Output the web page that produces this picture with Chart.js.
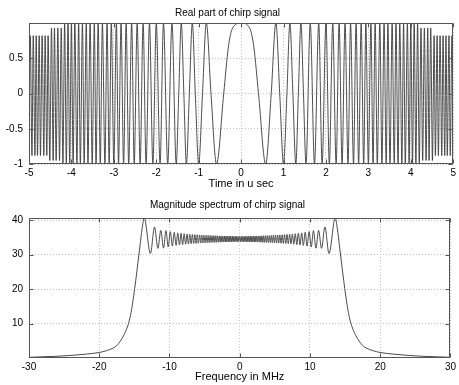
<!DOCTYPE html>
<html>
<head>
<meta charset="utf-8">
<script src="https://cdn.jsdelivr.net/npm/chart.js@4.4.0/dist/chart.umd.min.js"></script>
<style>
  html, body { margin: 0; padding: 0; background: #fff; }
  #top { position: absolute; left: 0; top: 0; width: 459px; height: 195px; }
  #bottom { position: absolute; left: 0; top: 195px; width: 459px; height: 190px; }
</style>
</head>
<body>
<div id="top"><canvas id="chirpChart"></canvas></div>
<div id="bottom"><canvas id="specChart"></canvas></div>
<script>
// real part of the chirp, read for t >= 0 (the curve is even in t):
// a few shoulder points and zero crossings near the centre, then peaks / troughs
const chirpTime = [
  0, 0.2, 0.3, 0.41, 0.58, 0.71, 0.82, 0.91, 1.0, 1.08, 1.15, 1.22, 1.29, 1.35, 1.41, 1.47, 1.53,
  1.63, 1.73, 1.83, 1.91, 2.0, 2.08, 2.16, 2.24, 2.31, 2.38, 2.45, 2.52, 2.58, 2.65,
  2.71, 2.77, 2.83, 2.89, 2.94, 3.0, 3.06, 3.11, 3.16, 3.21, 3.27, 3.32, 3.37, 3.42,
  3.46, 3.51, 3.56, 3.61, 3.65, 3.70, 3.74, 3.79, 3.83, 3.87, 3.92, 3.96, 4.0, 4.04,
  4.08, 4.12, 4.16, 4.20, 4.24, 4.28, 4.32, 4.36, 4.40, 4.43, 4.47, 4.51, 4.55, 4.58,
  4.62, 4.65, 4.69, 4.73, 4.76, 4.80, 4.83, 4.86, 4.90, 4.93, 4.97, 5.0
];
const chirpValue = [
  1, 0.93, 0.66, 0, -1, 0, 1, 0, -1, 0, 1, 0, -1, 0, 1, 0, -1,
  1, -1, 1, -1, 1, -1, 1, -1, 1, -1, 1, -1, 1, -1,
  1, -1, 1, -1, 1, -1, 1, -1, 1, -1, 1, -1, 1, -1,
  1, -1, 1, -1, 1, -1, 1, -1, 1, -1, 1, -1, 1, -1,
  1, -1, 1, -1, 0.93, -0.95, 0.93, -0.95, 0.93, -0.95, 0.93, -0.95, 0.82, -0.88,
  0.82, -0.88, 0.82, -0.88, 0.82, -0.88, 0.82, -0.88, 0.82, -0.88, 0.82, -0.88
];
const chirpXTicks = [-5, -4, -3, -2, -1, 0, 1, 2, 3, 4, 5];
const chirpYTicks = [-1, -0.5, 0, 0.5];

// magnitude spectrum, read for f <= 0 (symmetric about 0)
const specFreq = [
  -30, -28, -26, -24, -22, -20, -19, -18, -17.5, -17, -16.5, -16, -15.7, -15.4, -15.1,
  -14.8, -14.5, -14.2, -13.9, -13.6,
  -12.71, -12.13, -11.65, -11.23, -10.85, -10.5, -10.18, -9.88, -9.59, -9.32, -9.06,
  -8.82, -8.58, -8.35, -8.13, -7.91, -7.70, -7.5, -7.30, -7.11, -6.92, -6.74, -6.56,
  -6.38, -6.21, -6.04, -5.88, -5.71, -5.55, -5.40, -5.24, -5.09, -4.94, -4.79, -4.64,
  -4.5, -4.36, -4.22, -4.08, -3.94, -3.81, -3.68, -3.54, -3.41, -3.29, -3.16, -3.03,
  -2.91, -2.78, -2.66, -2.54, -2.42, -2.30, -2.18, -2.07, -1.95, -1.84, -1.72, -1.61,
  -1.5, -1.39, -1.28, -1.17, -1.06, -0.96, -0.85, -0.74, -0.64, -0.54, -0.43, -0.33,
  -0.23, -0.13, -0.03
];
const specMag = [
  0.2, 0.35, 0.5, 0.75, 1.1, 1.6, 2.1, 2.9, 3.6, 4.9, 6.6, 9.0, 11, 14, 18,
  22.5, 27.5, 32.5, 37.5, 40.6,
  30.3, 38.0, 31.8, 37.0, 31.85, 36.94, 32.22, 36.65, 32.47, 36.44, 32.65,
  36.28, 32.79, 36.15, 32.9, 36.05, 32.99, 35.97, 33.07, 35.89, 33.14, 35.83, 33.2,
  35.78, 33.25, 35.73, 33.29, 35.68, 33.34, 35.65, 33.37, 35.61, 33.41, 35.58, 33.44,
  35.55, 33.47, 35.52, 33.49, 35.49, 33.52, 35.47, 33.54, 35.45, 33.56, 35.43, 33.58,
  35.41, 33.6, 35.39, 33.62, 35.37, 33.63, 35.36, 33.65, 35.34, 33.66, 35.33, 33.68,
  35.31, 33.69, 35.3, 33.7, 35.29, 33.72, 35.28, 33.73, 35.27, 33.74, 35.26, 33.75,
  35.24, 33.76, 35.23
];
const specXTicks = [-30, -20, -10, 0, 10, 20, 30];
const specYTicks = [10, 20, 30, 40];

const FONT = "'Liberation Sans', Arial, Helvetica, sans-serif";

// chirp points: mirror the t >= 0 half
const chirpPoints = [];
for (let i = chirpTime.length - 1; i > 0; i--) chirpPoints.push({ x: -chirpTime[i], y: chirpValue[i] });
for (let i = 0; i < chirpTime.length; i++) chirpPoints.push({ x: chirpTime[i], y: chirpValue[i] });

// spectrum points: left half, then mirrored right half
const specPoints = [];
for (let i = 0; i < specFreq.length; i++) specPoints.push({ x: specFreq[i], y: specMag[i] });
for (let i = specFreq.length - 1; i >= 0; i--) specPoints.push({ x: -specFreq[i], y: specMag[i] });

// box round the plot with inward tick marks, like a matlab axes
const matlabBox = {
  id: "matlabBox",
  afterDatasetsDraw(chart) {
    const { ctx, chartArea: a, scales } = chart;
    const l = Math.round(a.left) + 0.5, r = Math.round(a.right) - 0.5;
    const t = Math.round(a.top) + 0.5, b = Math.round(a.bottom) - 0.5;
    ctx.save();
    ctx.strokeStyle = "#555";
    ctx.lineWidth = 1;
    ctx.strokeRect(l, t, r - l, b - t);
    ctx.beginPath();
    scales.x.ticks.forEach((tk) => {
      const px = Math.round(scales.x.getPixelForValue(tk.value)) + 0.5;
      ctx.moveTo(px, b); ctx.lineTo(px, b - 4);
      ctx.moveTo(px, t); ctx.lineTo(px, t + 4);
    });
    scales.y.ticks.forEach((tk) => {
      const py = Math.round(scales.y.getPixelForValue(tk.value)) + 0.5;
      ctx.moveTo(l, py); ctx.lineTo(l + 4, py);
      ctx.moveTo(r, py); ctx.lineTo(r - 4, py);
    });
    ctx.stroke();
    ctx.restore();
  },
};

function makeChart(id, points, o) {
  return new Chart(document.getElementById(id), {
    type: "line",
    data: {
      datasets: [{
        data: points,
        borderColor: o.color,
        borderWidth: o.width,
        pointRadius: 0,
        cubicInterpolationMode: "monotone",
        fill: false,
      }],
    },
    options: {
      responsive: true,
      maintainAspectRatio: false,
      animation: false,
      layout: { padding: { left: 0, right: 4, top: 0, bottom: 0 } },
      plugins: {
        legend: { display: false },
        tooltip: { enabled: false },
        title: {
          display: true,
          text: o.title,
          color: "#000",
          font: { family: FONT, size: 10, weight: "normal" },
          padding: o.titlePad,
        },
      },
      scales: {
        x: {
          type: "linear",
          min: o.xMin,
          max: o.xMax,
          afterBuildTicks: (s) => { s.ticks = o.xTicks.map((v) => ({ value: v })); },
          afterFit: (s) => { s.height = o.xHeight; },
          ticks: {
            color: "#000", font: { family: FONT, size: 10 }, padding: 3,
            autoSkip: false, maxRotation: 0, callback: (v) => String(v),
          },
          grid: { color: "#c4c4c4", drawTicks: false },
          border: { display: false, dash: [1, 2] },
          title: {
            display: true,
            text: o.xLabel,
            color: "#000",
            font: { family: FONT, size: 11 },
            padding: { top: 0, bottom: o.xLabelPad },
          },
        },
        y: {
          type: "linear",
          min: o.yMin,
          max: o.yMax,
          afterBuildTicks: (s) => { s.ticks = o.yTicks.map((v) => ({ value: v })); },
          afterFit: (s) => { s.width = 29; },
          ticks: { color: "#000", font: { family: FONT, size: 10 }, padding: 6, callback: (v) => String(v) },
          grid: { color: "#c4c4c4", drawTicks: false },
          border: { display: false, dash: [1, 2] },
        },
      },
    },
    plugins: [matlabBox],
  });
}

makeChart("chirpChart", chirpPoints, {
  title: "Real part of chirp signal",
  titlePad: { top: 7, bottom: 4 },
  xLabel: "Time in u sec",
  xLabelPad: 4,
  xHeight: 31,
  xMin: -5, xMax: 5, xTicks: chirpXTicks,
  yMin: -1, yMax: 1, yTicks: chirpYTicks,
  color: "#3a3a3a", width: 0.9,
});

makeChart("specChart", specPoints, {
  title: "Magnitude spectrum of chirp signal",
  titlePad: { top: 4, bottom: 7 },
  xLabel: "Frequency in MHz",
  xLabelPad: 1,
  xHeight: 27,
  xMin: -30, xMax: 30, xTicks: specXTicks,
  yMin: 0, yMax: 40.6, yTicks: specYTicks,
  color: "#4a4a4a", width: 1,
});
</script>
</body>
</html>
